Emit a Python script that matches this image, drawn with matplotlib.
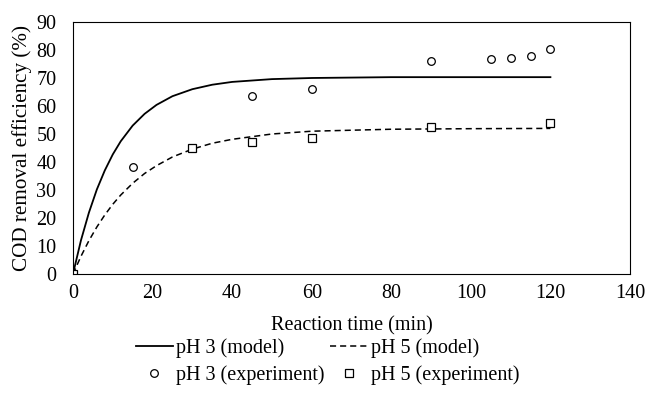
import matplotlib.pyplot as plt
import numpy as np

plt.rcParams['font.family'] = ['Liberation Serif', 'DejaVu Serif']

# model curves
t_model = [0, 2, 4, 6, 8, 10, 12, 15, 18, 21, 25, 30, 35, 40, 50, 60, 80, 100, 120]
ph3_model = [0, 12.0, 21.9, 30.2, 37.0, 42.7, 47.4, 53.0, 57.2, 60.4, 63.5, 66.0,
             67.6, 68.6, 69.6, 70.0, 70.3, 70.3, 70.3]
ph5_model = [0, 6.3, 11.9, 16.8, 21.1, 24.9, 28.2, 32.4, 35.9, 38.7, 41.8, 44.6,
             46.7, 48.1, 50.0, 51.0, 51.7, 51.9, 52.0]

# experimental points
t_ph3 = [0, 15, 45, 60, 90, 105, 110, 115, 120]
ph3_exp = [0, 38.3, 63.6, 66.0, 76.1, 76.7, 77.3, 77.9, 80.2]
t_ph5 = [0, 30, 45, 60, 90, 120]
ph5_exp = [0, 45.1, 47.3, 48.7, 52.4, 53.8]

fs = 14.5

fig = plt.figure(figsize=(6.47, 4.11), dpi=100)
ax = fig.add_axes([0.1128, 0.3333, 0.8609, 0.6132])

l1, = ax.plot(t_model, ph3_model, color='black', lw=1.3, label='pH 3 (model)')
l2, = ax.plot(t_model, ph5_model, color='black', lw=1.1, ls=(0, (4, 2.6)), label='pH 5 (model)')
p1, = ax.plot(t_ph3, ph3_exp, ls='none', marker='o', ms=5.5, mfc='white', mec='black',
              mew=0.9, label='pH 3 (experiment)')
p2, = ax.plot(t_ph5, ph5_exp, ls='none', marker='s', ms=5.5, mfc='white', mec='black',
              mew=0.9, label='pH 5 (experiment)')

ax.set_xlim(0, 140)
ax.set_ylim(0, 90)
ax.set_xticks(np.arange(0, 141, 20))
ax.set_yticks(np.arange(0, 91, 10))
ax.tick_params(length=0, labelsize=fs)
ax.tick_params(axis='x', pad=7)
ax.tick_params(axis='y', pad=12)
for s in ax.spines.values():
    s.set_linewidth(0.8)
ax.set_xlabel('Reaction time (min)', fontsize=fs, labelpad=10)
ax.set_ylabel('COD removal efficiency (%)', fontsize=15.2, labelpad=3)

fig.legend([l1, p1, l2, p2], [h.get_label() for h in [l1, p1, l2, p2]],
           loc='upper center', bbox_to_anchor=(0.506, 0.222), ncol=2, frameon=False,
           fontsize=fs, handlelength=1.85, numpoints=1, columnspacing=0.3,
           handletextpad=0.15, labelspacing=0.4)

fig.savefig('out.png', dpi=100)
